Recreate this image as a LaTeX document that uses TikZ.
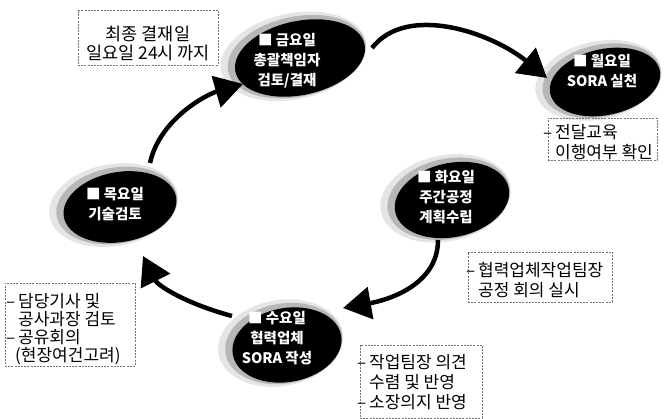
\documentclass[tikz,border=0pt]{standalone}
\usepackage{fontspec}
\newfontfamily\kr{Noto Sans CJK KR}
\usetikzlibrary{arrows.meta,shapes.geometric}
\tikzset{
 blob/.style={ellipse, fill=black, inner sep=0pt},
 halo/.style={fill=black, opacity=#1},
 btxt/.style={text=white, font=\kr\bfseries\fontsize{14.5}{20}\selectfont, align=center, inner sep=0pt},
 dbox/.style={draw=black!55, line width=0.6pt, dash pattern=on 2pt off 1.2pt, inner sep=0pt},
 ntxt/.style={font=\kr\fontsize{17}{20}\selectfont, align=left, inner sep=0pt, anchor=west},
 arr/.style={line width=4.5pt, -{Triangle[length=28pt,width=32pt]}},
}
\newcommand\myblob[6]{%
 \fill[halo=0.10, rotate around={#6:(#2,#3)}] ({#2-6},{#3-3}) ellipse ({#4+8} and {#5+6});
 \fill[halo=0.20, rotate around={#6:(#2,#3)}] ({#2-3},{#3-2}) ellipse ({#4+4} and {#5+3});
 \node[blob, minimum width=#4*2pt, minimum height=#5*2pt, rotate=#6] (#1) at (#2,#3) {};
}
\newcommand\bl{\makebox[12pt][l]{–}}
\newcommand\ind{\hspace*{12pt}}
\begin{document}
\begin{tikzpicture}[x=1pt,y=-1pt]
\fill[white] (0,0) rectangle (667,419);
\useasboundingbox (0,0) rectangle (667,419);

% blobs
\myblob{fri}{300}{58}{66}{37}{12}
\myblob{mon}{605}{82}{56}{33}{12}
\myblob{tue}{452}{200}{58}{37}{12}
\myblob{thu}{120}{207}{57}{35}{10}
\myblob{wed}{287}{345}{55}{37}{10}

% blob texts
\node[btxt] (frit) at (287,61) {■ 금요일\\총괄책임자\\검토/결재};
\node[btxt] (mont) at (602,71) {■ 월요일\\SORA 실천};
\node[btxt] (tuet) at (446,197) {■ 화요일\\주간공정\\계획수립};
\node[btxt] (thut) at (115,204) {■ 목요일\\기술검토};
\node[btxt] (wedt) at (277,338) {■ 수요일\\협력업체\\SORA 작성};

% arrows
\coordinate (s1) at (372,48);  \coordinate (e1) at (547,78);
\coordinate (s2) at (438,240); \coordinate (e2) at (343,308);
\coordinate (s3) at (232,316); \coordinate (e3) at (143,256);
\coordinate (s4) at (150,163); \coordinate (e4) at (243,84);
\draw[arr] (s1) .. controls +(35,-45) and +(-55,-45) .. (e1);
\draw[arr] (s2) .. controls +(0,45) and +(45,-8) .. (e2);
\draw[arr] (s3) .. controls +(-45,-12) and +(15,30) .. (e3);
\draw[arr] (s4) .. controls +(10,-45) and +(-35,10) .. (e4);

% dashed boxes
\node[dbox, minimum width=140pt, minimum height=55pt] (b1) at (148,37.5) {};
\node[font=\kr\fontsize{17.5}{19}\selectfont, align=center, inner sep=0pt] (b1t) at (148,43) {최종 결재일\\일요일 24시 까지};

\node[dbox, minimum width=109pt, minimum height=42pt] (b2) at (602.5,139) {};
\node[ntxt] (b2t) at (543,142.5) {\bl 전달교육\\\ind 이행여부 확인};

\node[dbox, minimum width=144pt, minimum height=50pt] (b3) at (540,277) {};
\node[ntxt] (b3t) at (466,280) {\bl 협력업체작업팀장\\\ind 공정 회의 실시};

\node[dbox, minimum width=130pt, minimum height=83pt] (b4) at (70,324.5) {};
\node[ntxt, font=\kr\fontsize{17}{18}\selectfont] (b4t) at (6,329) {\bl 담당기사 및\\\ind 공사과장 검토\\\bl 공유회의\\\hspace*{9pt}(현장여건고려)};

\node[dbox, minimum width=122pt, minimum height=73pt] (b5) at (421,381.5) {};
\node[ntxt, font=\kr\fontsize{17}{20}\selectfont] (b5t) at (357,382) {\bl 작업팀장 의견\\\ind 수렴 및 반영\\\bl 소장의지 반영};
\end{tikzpicture}
\end{document}
